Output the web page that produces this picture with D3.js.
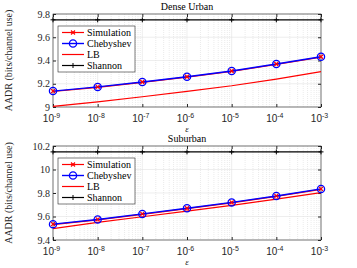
<!DOCTYPE html>
<html>
<head>
<meta charset="utf-8">
<script src="https://cdn.jsdelivr.net/npm/d3@7"></script>
<style>
  body { margin: 0; background: #fff; }
  svg { display: block; font-family: "Liberation Serif", "DejaVu Serif", serif; }
</style>
</head>
<body>
<svg id="chart" width="357" height="268"></svg>
<script>
// epsilon values (x axis)
const epsilon = [1e-9, 1e-8, 1e-7, 1e-6, 1e-5, 1e-4, 1e-3];
const xTickLabels = ["-9", "-8", "-7", "-6", "-5", "-4", "-3"];

// Dense Urban
const denseSim = [9.137, 9.173, 9.215, 9.26, 9.31, 9.37, 9.432];
const denseCheb = [9.137, 9.173, 9.215, 9.26, 9.31, 9.37, 9.432];
const denseLB = [9.006, 9.044, 9.088, 9.135, 9.183, 9.24, 9.305];
const denseShannon = [9.75, 9.75, 9.75, 9.75, 9.75, 9.75, 9.75];
const denseYTicks = [9, 9.2, 9.4, 9.6, 9.8];

// Suburban
const subSim = [9.535, 9.575, 9.622, 9.67, 9.72, 9.775, 9.835];
const subCheb = [9.535, 9.575, 9.622, 9.67, 9.72, 9.775, 9.835];
const subLB = [9.497, 9.55, 9.598, 9.645, 9.695, 9.748, 9.803];
const subShannon = [10.15, 10.15, 10.15, 10.15, 10.15, 10.15, 10.15];
const subYTicks = [9.4, 9.6, 9.8, 10, 10.2];

const legendNames = ["Simulation", "Chebyshev", "LB", "Shannon"];

const svg = d3.select("#chart");

function drawPanel(opts) {
    const { top, bottom, left, right, title, yDomain, yTicks, sim, cheb, lb, shannon } = opts;

    const x = d3.scaleLog().domain([1e-9, 1e-3]).range([left, right]);
    const y = d3.scaleLinear().domain(yDomain).range([bottom, top]);

    const g = svg.append("g");

    // minor x grid (dotted)
    const minor = [];
    for (let e = -9; e < -3; e++) {
        for (let k = 2; k <= 9; k++) minor.push(k * Math.pow(10, e));
    }
    g.selectAll(".minor").data(minor).enter().append("line")
        .attr("x1", d => x(d)).attr("x2", d => x(d))
        .attr("y1", top).attr("y2", bottom)
        .attr("stroke", "#d6d6d6").attr("stroke-width", 0.5)
        .attr("stroke-dasharray", "1,1");

    // major grid
    g.selectAll(".vgrid").data(epsilon).enter().append("line")
        .attr("x1", d => x(d)).attr("x2", d => x(d))
        .attr("y1", top).attr("y2", bottom)
        .attr("stroke", "#e3e3e3").attr("stroke-width", 0.6);
    g.selectAll(".hgrid").data(yTicks).enter().append("line")
        .attr("x1", left).attr("x2", right)
        .attr("y1", d => y(d)).attr("y2", d => y(d))
        .attr("stroke", "#e3e3e3").attr("stroke-width", 0.6);

    // axes (ticks inside)
    const xAxis = d3.axisBottom(x).tickValues(epsilon).tickSizeInner(-3).tickSizeOuter(0)
        .tickFormat(() => "");
    const gx = g.append("g").attr("transform", `translate(0,${bottom})`).call(xAxis);
    gx.select(".domain").remove();
    gx.selectAll(".tick line").attr("stroke", "#262626");
    gx.selectAll(".tick").each(function(d, i) {
        const t = d3.select(this).append("text")
            .attr("x", -2).attr("y", 14.5).attr("text-anchor", "middle")
            .style("font-size", "10px").attr("fill", "#262626");
        t.append("tspan").text("10");
        t.append("tspan").attr("dy", -4).style("font-size", "7px").text(xTickLabels[i]);
    });
    // top ticks
    g.append("g").attr("transform", `translate(0,${top})`)
        .call(d3.axisTop(x).tickValues(epsilon).tickSizeInner(-3).tickSizeOuter(0).tickFormat(""))
        .call(s => s.select(".domain").remove())
        .selectAll(".tick line").attr("stroke", "#262626");

    const gy = g.append("g").attr("transform", `translate(${left},0)`)
        .call(d3.axisLeft(y).tickValues(yTicks).tickSizeInner(-3).tickSizeOuter(0).tickPadding(3)
            .tickFormat(d3.format("~g")));
    gy.select(".domain").remove();
    gy.selectAll(".tick line").attr("stroke", "#262626");
    gy.selectAll(".tick text").style("font-size", "10px").attr("fill", "#262626")
        .style("font-family", "'Liberation Serif', serif");
    g.append("g").attr("transform", `translate(${right},0)`)
        .call(d3.axisRight(y).tickValues(yTicks).tickSizeInner(-3).tickSizeOuter(0).tickFormat(""))
        .call(s => s.select(".domain").remove())
        .selectAll(".tick line").attr("stroke", "#262626");

    // box
    g.append("rect").attr("x", left).attr("y", top)
        .attr("width", right - left).attr("height", bottom - top)
        .attr("fill", "none").attr("stroke", "#262626").attr("stroke-width", 0.6);

    const line = d3.line().x((d, i) => x(epsilon[i])).y(d => y(d));

    // Shannon
    g.append("path").datum(shannon).attr("d", line)
        .attr("fill", "none").attr("stroke", "#000").attr("stroke-width", 1.2);
    g.selectAll(".plus").data(shannon).enter().append("path")
        .attr("transform", (d, i) => `translate(${x(epsilon[i])},${y(d)})`)
        .attr("d", "M-2.5,0H2.5M0,-2.5V2.5")
        .attr("stroke", "#000").attr("stroke-width", 1);

    // LB
    g.append("path").datum(lb).attr("d", line)
        .attr("fill", "none").attr("stroke", "#ff0000").attr("stroke-width", 1.2);

    // Simulation line (under Chebyshev)
    g.append("path").datum(sim).attr("d", line)
        .attr("transform", "translate(0,0.4)")
        .attr("fill", "none").attr("stroke", "#ff0000").attr("stroke-width", 1.2);

    // Chebyshev
    g.append("path").datum(cheb).attr("d", line)
        .attr("fill", "none").attr("stroke", "#0000ff").attr("stroke-width", 1.4);
    g.selectAll(".circ").data(cheb).enter().append("circle")
        .attr("cx", (d, i) => x(epsilon[i])).attr("cy", d => y(d)).attr("r", 3.6)
        .attr("fill", "none").attr("stroke", "#0000ff").attr("stroke-width", 1.3);

    // Simulation markers
    g.selectAll(".cross").data(sim).enter().append("path")
        .attr("transform", (d, i) => `translate(${x(epsilon[i])},${y(d)})`)
        .attr("d", "M-2,-2L2,2M-2,2L2,-2")
        .attr("stroke", "#ff0000").attr("stroke-width", 1.2);

    // title
    svg.append("text").attr("x", (left + right) / 2).attr("y", top - 4)
        .attr("text-anchor", "middle").style("font-size", "10px").attr("fill", "#000")
        .text(title);

    // x label
    svg.append("text").attr("x", (left + right) / 2).attr("y", bottom + 25)
        .attr("text-anchor", "middle").style("font-size", "9px").style("font-style", "italic")
        .attr("fill", "#262626").text("ε");

    // y label
    svg.append("text")
        .attr("transform", `translate(${left - 41},${(top + bottom) / 2}) rotate(-90)`)
        .attr("text-anchor", "middle").style("font-size", "10px").attr("fill", "#262626")
        .text("AADR (bits/channel use)");

    // legend
    const lx = left + 5, ly = top + 12, lw = 77, lh = 46;
    const lg = svg.append("g");
    lg.append("rect").attr("x", lx).attr("y", ly).attr("width", lw).attr("height", lh)
        .attr("fill", "#fff").attr("stroke", "#262626").attr("stroke-width", 0.6);
    legendNames.forEach((name, i) => {
        const yy = ly + 6.5 + i * 11;
        const x1 = lx + 4, x2 = lx + 26, xm = (x1 + x2) / 2;
        const col = i === 1 ? "#0000ff" : i === 3 ? "#000" : "#ff0000";
        lg.append("line").attr("x1", x1).attr("x2", x2).attr("y1", yy).attr("y2", yy)
            .attr("stroke", col).attr("stroke-width", i === 1 ? 1.4 : 1.2);
        if (i === 0) {
            lg.append("path").attr("transform", `translate(${xm},${yy})`)
                .attr("d", "M-2,-2L2,2M-2,2L2,-2").attr("stroke", col).attr("stroke-width", 1.2);
        } else if (i === 1) {
            lg.append("circle").attr("cx", xm).attr("cy", yy).attr("r", 3.6)
                .attr("fill", "none").attr("stroke", col).attr("stroke-width", 1.3);
        } else if (i === 3) {
            lg.append("path").attr("transform", `translate(${xm},${yy})`)
                .attr("d", "M-2.5,0H2.5M0,-2.5V2.5").attr("stroke", col).attr("stroke-width", 1);
        }
        lg.append("text").attr("x", x2 + 3).attr("y", yy + 3.3)
            .style("font-size", "10px").attr("fill", "#000").text(name);
    });
}

drawPanel({
    top: 14, bottom: 107, left: 53, right: 321,
    title: "Dense Urban", yDomain: [9, 9.8], yTicks: denseYTicks,
    sim: denseSim, cheb: denseCheb, lb: denseLB, shannon: denseShannon
});

drawPanel({
    top: 146, bottom: 240, left: 53, right: 321,
    title: "Suburban", yDomain: [9.4, 10.2], yTicks: subYTicks,
    sim: subSim, cheb: subCheb, lb: subLB, shannon: subShannon
});
</script>
</body>
</html>
